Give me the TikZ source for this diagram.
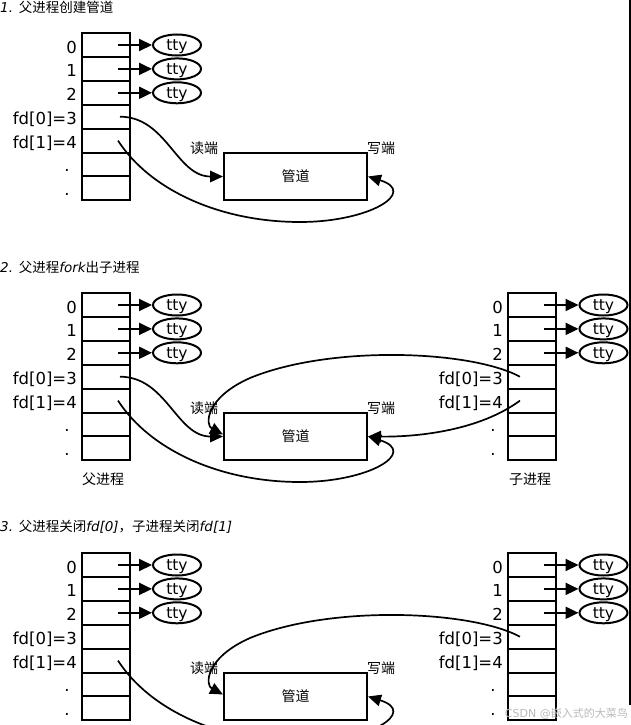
\documentclass[tikz,border=0pt]{standalone}
\usepackage{fontspec}
\setmainfont{DejaVu Sans}
\newfontfamily\cjk{Noto Sans CJK SC}
\usetikzlibrary{arrows.meta,shapes.geometric}

\begin{document}
\begin{tikzpicture}[x=1pt,y=-1pt,
    fd cell/.style={draw,line width=2pt,minimum width=48pt,minimum height=23.9pt,inner sep=0pt},
    fd label/.style={anchor=base east,inner sep=0pt,font=\fontsize{16.5}{16.5}\selectfont},
    tty node/.style={draw,ellipse,line width=2pt,minimum width=48pt,minimum height=21pt,inner sep=0pt,text height=11pt,text depth=0pt,font=\fontsize{15.5}{15.5}\selectfont},
    pipe box/.style={draw,line width=2pt,minimum width=143pt,minimum height=47pt,inner sep=0pt,font=\cjk\fontsize{14}{14}\selectfont},
    end label/.style={inner sep=0pt,font=\cjk\fontsize{14}{14}\selectfont},
    head text/.style={anchor=west,inner sep=0pt,font=\fontsize{13.5}{13.5}\selectfont},
    tty arrow/.style={line width=2pt,-{Triangle[length=13pt,width=12pt]}},
    pipe arrow/.style={line width=1.7pt,-{Triangle[length=13pt,width=11.5pt]}}]
  \useasboundingbox (0,0) rectangle (631,725);
  \clip (0,0) rectangle (631,725);

  \node[head text] (head1) at (0,7) {{\itshape 1.} {\cjk 父进程创建管道}};
  \node[head text] (head2) at (0,267) {{\itshape 2.} {\cjk 父进程}{\itshape fork}{\cjk 出子进程}};
  \node[head text] (head3) at (0,527) {{\itshape 3.} {\cjk 父进程关闭}{\itshape fd[0]}{\cjk ，子进程关闭}{\itshape fd[1]}};

  \foreach \s/\oy in {1/0,2/260,3/520} {
    \foreach \i in {0,...,6}
      \node[fd cell] (par\s-\i) at (106,{45+\oy+23.9*\i}) {};
    \foreach \i/\t in {0/0,1/1,2/2,3/{fd[0]=3},4/{fd[1]=4}}
      \node[fd label] (parl\s-\i) at ([xshift=-4pt,yshift=-8pt]par\s-\i.west) {\t};
    \foreach \i in {5,6}
      \node[fd label,anchor=base] (pard\s-\i) at ([xshift=-14pt,yshift=-6.7pt]par\s-\i.west) {.};
    \foreach \i in {0,1,2} {
      \node[tty node] (part\s-\i) at (177,{45+\oy+23.9*\i}) {tty};
      \draw[tty arrow] ([xshift=12pt]par\s-\i.center) -- (part\s-\i.west);
    }
    \node[pipe box] (pipe\s) at (295.5,{176.5+\oy}) {管道};
    \node[end label] (read\s) at (204,{148+\oy}) {读端};
    \node[end label] (write\s) at (381,{148+\oy}) {写端};
  }

  \foreach \s/\oy in {2/260,3/520} {
    \foreach \i in {0,...,6}
      \node[fd cell] (chd\s-\i) at (532,{45+\oy+23.9*\i}) {};
    \foreach \i/\t in {0/0,1/1,2/2,3/{fd[0]=3},4/{fd[1]=4}}
      \node[fd label] (chdl\s-\i) at ([xshift=-4pt,yshift=-8pt]chd\s-\i.west) {\t};
    \foreach \i in {5,6}
      \node[fd label,anchor=base] (chdd\s-\i) at ([xshift=-14pt,yshift=-6.7pt]chd\s-\i.west) {.};
    \foreach \i in {0,1,2} {
      \node[tty node] (chdt\s-\i) at (603.5,{45+\oy+23.9*\i}) {tty};
      \draw[tty arrow] ([xshift=12pt]chd\s-\i.center) -- (chdt\s-\i.west);
    }
  }

  \node[end label] (parname) at (103,479) {父进程};
  \node[end label] (chdname) at (530,479) {子进程};

  \draw[pipe arrow] ([xshift=14pt]par1-3.center) to[out=0,in=180] (pipe1.west);
  \draw[pipe arrow] ([xshift=12pt]par1-4.center) .. controls (150,190) and (220,222) .. (300,222)
    .. controls (370,222) and (418,192) .. (pipe1.east);

  \draw[pipe arrow] ([xshift=14pt]par2-3.center) to[out=0,in=180] (pipe2.west);
  \draw[pipe arrow] ([xshift=12pt]par2-4.center) .. controls (150,450) and (220,482) .. (300,482)
    .. controls (370,482) and (418,452) .. (pipe2.east);
  \draw[pipe arrow] ([xshift=-12pt]chd2-3.center) .. controls (470,350) and (330,345) .. (250,378)
    .. controls (205,398) and (205,425) .. ([yshift=2pt]pipe2.west);
  \draw[pipe arrow] ([xshift=-12pt]chd2-4.center) .. controls (480,430) and (420,437) .. (pipe2.east);

  \draw[pipe arrow] ([xshift=12pt]par3-4.center) .. controls (150,710) and (220,742) .. (300,742)
    .. controls (370,742) and (418,712) .. (pipe3.east);
  \draw[pipe arrow] ([xshift=-12pt]chd3-3.center) .. controls (470,610) and (330,605) .. (250,638)
    .. controls (205,658) and (205,685) .. ([yshift=2pt]pipe3.west);

  \draw[line width=2pt] (630,0) -- (630,705);
  \node[anchor=east,inner sep=0pt,text=gray!55,font=\fontsize{11}{11}\selectfont] (mark) at (628,714) {CSDN @{\cjk 嵌入式的大菜鸟}};
\end{tikzpicture}
\end{document}
